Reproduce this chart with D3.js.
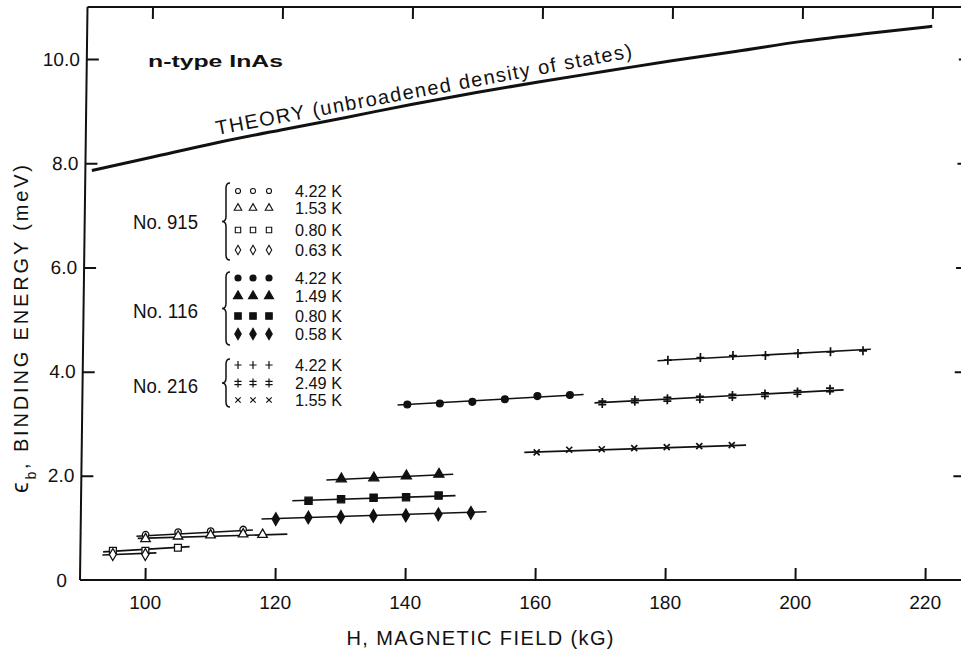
<!DOCTYPE html>
<html>
<head>
<meta charset="utf-8">
<script src="https://cdn.jsdelivr.net/npm/d3@7"></script>
<style>
  body { margin: 0; background: #fff; }
  svg { display: block; font-family: "Liberation Sans", "DejaVu Sans", sans-serif; }
</style>
</head>
<body>
<div id="chart"></div>
<script>
// theory curve (unbroadened density of states)
const theoryH = [91, 100, 110, 120, 130, 140, 150, 160, 170, 180, 190, 200, 210, 220];
const theoryE = [7.86, 8.11, 8.39, 8.64, 8.88, 9.13, 9.36, 9.57, 9.77, 9.97, 10.15, 10.34, 10.49, 10.63];

// sample No. 915 (open symbols)  [H kG, eps_b meV]
const pts915_422 = [[100, 0.87], [105, 0.92], [110, 0.94], [115, 0.97]];
const pts915_153 = [[100, 0.79], [105, 0.84], [110, 0.86], [115, 0.88], [118, 0.87]];
const pts915_080 = [[95, 0.56], [100, 0.56], [105, 0.62]];
const pts915_063 = [[95, 0.49], [100, 0.49]];
// sample No. 116 (filled symbols)
const pts116_422 = [[140, 3.37], [145, 3.39], [150, 3.42], [155, 3.47], [160, 3.53], [165, 3.55]];
const pts116_149 = [[130, 1.94], [135, 1.96], [140, 2.00], [145, 2.03]];
const pts116_080 = [[125, 1.52], [130, 1.55], [135, 1.58], [140, 1.59], [145, 1.62]];
const pts116_058 = [[120, 1.17], [125, 1.20], [130, 1.21], [135, 1.23], [140, 1.24], [145, 1.26], [150, 1.29]];
// sample No. 216
const pts216_422 = [[180, 4.22], [185, 4.27], [190, 4.31], [195, 4.31], [200, 4.35], [205, 4.38], [210, 4.40]];
const pts216_249 = [[170, 3.40], [175, 3.44], [180, 3.47], [185, 3.49], [190, 3.53], [195, 3.56], [200, 3.60], [205, 3.65]];
const pts216_155 = [[160, 2.45], [165, 2.50], [170, 2.51], [175, 2.53], [180, 2.55], [185, 2.57], [190, 2.59]];

// straight lines drawn through each set (end points)
const fit915_422 = [[98.6, 0.84], [116.5, 0.96]];
const fit915_153 = [[98.8, 0.80], [121.8, 0.88]];
const fit915_080 = [[93.5, 0.54], [106.8, 0.64]];
const fit915_063 = [[93.4, 0.48], [101.7, 0.52]];
const fit116_422 = [[138.5, 3.36], [167.1, 3.56]];
const fit116_149 = [[127.7, 1.92], [147.2, 2.03]];
const fit116_080 = [[122.5, 1.52], [147.6, 1.62]];
const fit116_058 = [[117.8, 1.17], [152.4, 1.31]];
const fit216_422 = [[178.4, 4.21], [211.2, 4.43]];
const fit216_249 = [[168.8, 3.40], [207.1, 3.65]];
const fit216_155 = [[158.1, 2.45], [192.2, 2.59]];

// axes
const xTicks = [100, 120, 140, 160, 180, 200, 220];
const yTicks = [0, 2, 4, 6, 8, 10];
const yTickLabels = ["0", "2.0", "4.0", "6.0", "8.0", "10.0"];

// legend
const legendSamples = ["No. 915", "No. 116", "No. 216"];
const legend915 = ["4.22 K", "1.53 K", "0.80 K", "0.63 K"];
const legend116 = ["4.22 K", "1.49 K", "0.80 K", "0.58 K"];
const legend216 = ["4.22 K", "2.49 K", "1.55 K"];

const ink = "#111";
const W = 961, H = 652;

const svg = d3.select("#chart").append("svg")
  .attr("width", W).attr("height", H);

const x = d3.scaleLinear().domain([90, 226]).range([80, 964]);
const y = d3.scaleLinear().domain([0, 11]).range([580, 7]);

// the scanned figure leans slightly: shear everything about the baseline
const plot = svg.append("g")
  .attr("transform", `translate(0,${y(0)}) skewX(-0.75) translate(0,${-y(0)})`);

// frame
const frame = [
  [[90, 0], [90, 11]], [[90, 0], [226, 0]], [[90, 11], [226, 11]], [[226, 0], [226, 11]]
];
plot.selectAll(".frame").data(frame).enter().append("line")
  .attr("x1", d => x(d[0][0])).attr("y1", d => y(d[0][1]))
  .attr("x2", d => x(d[1][0])).attr("y2", d => y(d[1][1]))
  .attr("stroke", ink).attr("stroke-width", 2);

function styleAxis(g) {
  g.select(".domain").remove();
  g.selectAll(".tick line").attr("stroke", ink).attr("stroke-width", 2);
  g.selectAll(".tick text").attr("fill", ink).style("font-size", "19px");
}

plot.append("g")
  .attr("transform", `translate(0,${y(0)})`)
  .call(d3.axisBottom(x).tickValues(xTicks).tickSizeInner(-12).tickSizeOuter(0).tickPadding(16))
  .call(styleAxis);

plot.append("g")
  .attr("transform", `translate(0,${y(11)})`)
  .call(d3.axisTop(x).tickValues(xTicks).tickSizeInner(-12).tickSizeOuter(0).tickFormat(""))
  .call(styleAxis);

plot.append("g")
  .attr("transform", `translate(${x(90)},0)`)
  .call(d3.axisLeft(y).tickValues(yTicks).tickSizeInner(-12).tickSizeOuter(0).tickPadding(7)
    .tickFormat((d, i) => yTickLabels[i]))
  .call(styleAxis)
  .call(g => g.selectAll(".tick line").filter(d => d === 0).remove())
  .call(g => g.selectAll(".tick text").filter(d => d === 0).attr("x", -13));

plot.append("g")
  .attr("transform", `translate(${x(226)},0)`)
  .call(d3.axisRight(y).tickValues(yTicks.slice(1)).tickSizeInner(-12).tickSizeOuter(0).tickFormat(""))
  .call(styleAxis);

// theory curve
const theory = theoryH.map((h, i) => [h, theoryE[i]]);
plot.append("path")
  .datum(theory)
  .attr("fill", "none")
  .attr("stroke", ink)
  .attr("stroke-width", 3)
  .attr("d", d3.line().x(d => x(d[0])).y(d => y(d[1])).curve(d3.curveMonotoneX));

// symbols
function markPath(type, s) {
  const sym = (t, size) => d3.symbol(t, size * s * s)();
  switch (type) {
    case "circle": return sym(d3.symbolCircle, 36);
    case "triangle": return sym(d3.symbolTriangle, 44);
    case "square": return sym(d3.symbolSquare, 52);
    case "diamond": return sym(d3.symbolDiamond, 46);
    case "plus": return `M${-4 * s},0H${4 * s}M0,${-4.5 * s}V${4.5 * s}`;
    case "dplus": return `M${-4 * s},${-1.8 * s}H${4 * s}M${-4 * s},${1.8 * s}H${4 * s}M0,${-5 * s}V${5 * s}`;
    case "cross": return `M${-3 * s},${-3 * s}L${3 * s},${3 * s}M${-3 * s},${3 * s}L${3 * s},${-3 * s}`;
  }
}

const series = [
  { pts: pts915_422, fit: fit915_422, mark: "circle", fill: "open" },
  { pts: pts915_153, fit: fit915_153, mark: "triangle", fill: "open" },
  { pts: pts915_080, fit: fit915_080, mark: "square", fill: "open" },
  { pts: pts915_063, fit: fit915_063, mark: "diamond", fill: "open" },
  { pts: pts116_422, fit: fit116_422, mark: "circle", fill: "solid" },
  { pts: pts116_149, fit: fit116_149, mark: "triangle", fill: "solid" },
  { pts: pts116_080, fit: fit116_080, mark: "square", fill: "solid" },
  { pts: pts116_058, fit: fit116_058, mark: "diamond", fill: "solid" },
  { pts: pts216_422, fit: fit216_422, mark: "plus", fill: "line" },
  { pts: pts216_249, fit: fit216_249, mark: "dplus", fill: "line" },
  { pts: pts216_155, fit: fit216_155, mark: "cross", fill: "line" }
];
const fillOf = f => f === "open" ? "#fff" : f === "solid" ? ink : "none";

series.forEach(s => {
  plot.append("line")
    .attr("x1", x(s.fit[0][0])).attr("y1", y(s.fit[0][1]))
    .attr("x2", x(s.fit[1][0])).attr("y2", y(s.fit[1][1]))
    .attr("stroke", ink).attr("stroke-width", 1.6);
});
series.forEach(s => {
  plot.selectAll(null).data(s.pts).enter().append("path")
    .attr("transform", d => `translate(${x(d[0])},${y(d[1])})`)
    .attr("d", markPath(s.mark, s.fill === "open" ? 0.95 : 1))
    .attr("fill", fillOf(s.fill))
    .attr("stroke", ink)
    .attr("stroke-width", s.fill === "line" ? 1.7 : 1.3);
});

// annotations
svg.append("text")
  .attr("x", 148).attr("y", 67)
  .attr("textLength", 135).attr("lengthAdjust", "spacingAndGlyphs")
  .style("font-size", "17px").style("font-weight", "bold").attr("fill", ink)
  .text("n-type InAs");

svg.append("text")
  .attr("transform", "translate(217,135) rotate(-10.6)")
  .attr("textLength", 423).attr("lengthAdjust", "spacing")
  .style("font-size", "20px").attr("fill", ink)
  .text("THEORY (unbroadened density of states)");

// legend
const legendRows = [legend915, legend116, legend216];
const legendMarks = [series.slice(0, 4), series.slice(4, 8), series.slice(8)];
const rowY = [[191, 208, 230, 250], [278, 296, 316, 334], [365, 383, 400]];
const nameY = [229, 318, 393];
const braceSpan = [[183, 260], [272, 345], [359, 407]];
const colX = [238, 253, 269];

function bracePath(bx, y0, y1) {
  const m = (y0 + y1) / 2;
  return `M${bx + 4},${y0} Q${bx},${y0} ${bx},${y0 + 5} L${bx},${m - 5} Q${bx},${m} ${bx - 4},${m}` +
         ` Q${bx},${m} ${bx},${m + 5} L${bx},${y1 - 5} Q${bx},${y1} ${bx + 4},${y1}`;
}

const legend = svg.append("g");
legendSamples.forEach((name, gi) => {
  legend.append("text")
    .attr("x", 133).attr("y", nameY[gi])
    .attr("textLength", 65).attr("lengthAdjust", "spacingAndGlyphs")
    .style("font-size", "20px").attr("fill", ink)
    .text(name);
  legend.append("path")
    .attr("d", bracePath(226, braceSpan[gi][0], braceSpan[gi][1]))
    .attr("fill", "none").attr("stroke", ink).attr("stroke-width", 1.5);
  legendRows[gi].forEach((lab, ri) => {
    const s = legendMarks[gi][ri];
    colX.forEach(cx => {
      legend.append("path")
        .attr("transform", `translate(${cx},${rowY[gi][ri]})`)
        .attr("d", markPath(s.mark, s.fill === "open" ? 0.75 : 0.9))
        .attr("fill", fillOf(s.fill))
        .attr("stroke", ink)
        .attr("stroke-width", s.fill === "line" ? 1.2 : 1.1);
    });
    legend.append("text")
      .attr("x", 295).attr("y", rowY[gi][ri] + 6)
      .attr("textLength", 47).attr("lengthAdjust", "spacingAndGlyphs")
      .style("font-size", "16px").attr("fill", ink)
      .text(lab);
  });
});

// axis titles
svg.append("text")
  .attr("x", 480).attr("y", 645)
  .attr("text-anchor", "middle")
  .attr("textLength", 267).attr("lengthAdjust", "spacing")
  .style("font-size", "20px").attr("fill", ink)
  .text("H, MAGNETIC FIELD (kG)");

const yt = svg.append("text")
  .attr("transform", "translate(28,329) rotate(-90)")
  .attr("text-anchor", "middle")
  .attr("textLength", 328).attr("lengthAdjust", "spacing")
  .style("font-size", "20px").attr("fill", ink);
yt.append("tspan").style("font-size", "24px").text("\u03f5");
yt.append("tspan").attr("baseline-shift", "sub").style("font-size", "14px").text("b");
yt.append("tspan").text(", BINDING ENERGY (meV)");
</script>
</body>
</html>
